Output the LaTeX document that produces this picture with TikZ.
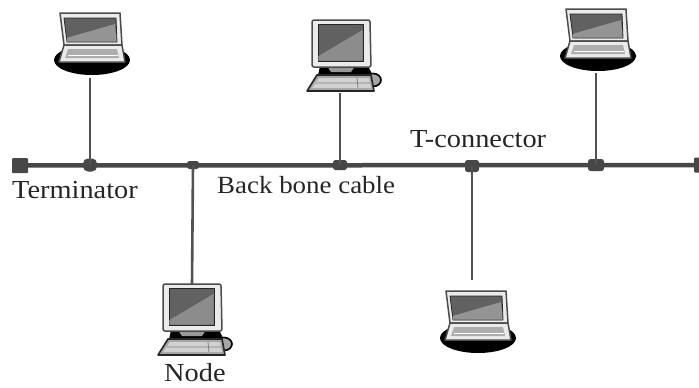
\documentclass[tikz,border=0pt]{standalone}
\usepackage{fontspec}
\setmainfont[FakeStretch=1.09]{Liberation Serif}
\begin{document}
\begin{tikzpicture}[x=1pt,y=-1pt,
  backbone/.style={line width=4.5pt,draw=black!72},
  dropline/.style={line width=2.6pt,draw=black!68},
  junction/.style={fill=black!72,draw=none,rounded corners=2.5pt,inner sep=0pt,minimum width=#1,minimum height=10pt},
  termbox/.style={fill=black!72,draw=none,inner sep=0pt,minimum width=15pt,minimum height=15pt,rounded corners=1pt},
  lab/.style={font=\fontsize{26}{30}\selectfont,text=black!85,inner sep=0pt,anchor=base west},
  labsmall/.style={lab,font=\fontsize{24.7}{28}\selectfont},
  casing/.style={fill=black!8,draw=black!70,line width=1.5pt,line join=round},
  scr/.style={fill=black!62,draw=black!85,line width=.8pt},
  pics/notebook/.style={code={
    \fill[black] (0,0) ellipse [x radius=38,y radius=15];
    \path[casing] (-32,-47) -- (28,-47) -- (30,-15) -- (-28,-15) -- cycle;
    \path[scr] (-28,-42) -- (24,-42) -- (25,-18) -- (-25,-18) -- cycle;
    \fill[black!42] (-25.5,-22) -- (23,-36) -- (24.6,-18.5) -- (-25,-18.5) -- cycle;
    \path[casing] (-28,-15) -- (30,-15) -- (33,2) -- (-33,2) -- cycle;
    \fill[black!32] (-24,-11) -- (25,-11) -- (27,-2) -- (-27,-2) -- cycle;
    \draw[white,line width=.9pt] (-24,-5) -- (26,-5);
  }},
  pics/desktop/.style={code={
    \fill[black] (-21,46) -- (27,46) -- (34,60) -- (-24,60) -- cycle;
    \fill[black!40] (-14,46) -- (14,46) -- (10,52) -- (-10,52) -- cycle;
    \draw[black,line width=1.6pt,fill=black!35] (32,60) ellipse [x radius=8,y radius=6.5];
    \path[casing,rounded corners=2pt] (-29,0) -- (29,0) -- (30,47) -- (-29,47) -- cycle;
    \path[scr] (-23,4) -- (22,4) -- (22,41) -- (-23,41) -- cycle;
    \fill[black!45] (-22.6,36) -- (21.6,10) -- (21.6,40.6) -- (-22.6,40.6) -- cycle;
    \path[fill=black!35,draw=black!85,line width=1.6pt,line join=round] (-24,55) -- (30,55) -- (33,71) -- (-34,71) -- cycle;
    \fill[black!18] (-22,58) -- (28,58) -- (30,68) -- (-29,68) -- cycle;
    \draw[black!50,line width=.8pt] (-25,63) -- (29,63) (16,58) -- (17,68);
  }}]
\useasboundingbox (0,0) rectangle (699,388);
\fill[white] (0,0) rectangle (699,388);

\node[termbox,minimum width=16pt] (tl) at (20,165.5) {};
\node[termbox,minimum width=10pt] (tr) at (699,165) {};
\node[junction=14pt,minimum height=13pt,rounded corners=5pt] (j1) at (90,165) {};
\node[junction=12pt,minimum height=8pt] (j2) at (193,165) {};
\node[junction=14pt] (j3) at (340,165) {};
\node[junction=14pt,minimum height=12pt] (j4) at (472,166) {};
\node[junction=16pt,minimum height=12pt] (j5) at (596,165) {};

\coordinate (c1) at (90,78);
\coordinate (c2) at (192,285);
\coordinate (c3) at (340,93);
\coordinate (c4) at (472,280);
\coordinate (c5) at (596,73);

\draw[backbone] (tl) -- (tr);
\foreach \a/\b in {j1/c1,j2/c2,j3/c3,j4/c4,j5/c5} \draw[dropline] (\a.center) -- (\b);

\pic at (92,60) {notebook};
\pic at (598,56) {notebook};
\pic at (478,338) {notebook};
\pic at (341,20) {desktop};
\pic at (192,284) {desktop};

\node[lab] (t1) at (12,198) {Terminator};
\node[labsmall] (t2) at (217,193) {Back bone cable};
\node[lab] (t3) at (410,147) {T-connector};
\node[lab] (t4) at (164,381.5) {Node};
\end{tikzpicture}
\end{document}
